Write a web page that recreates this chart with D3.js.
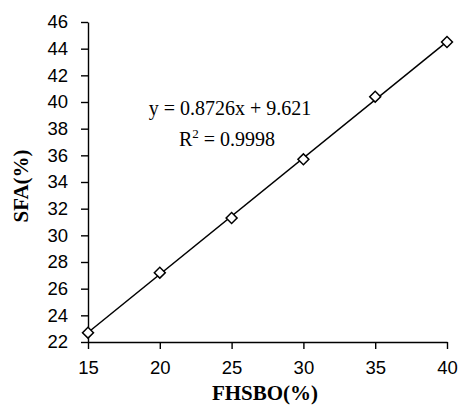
<!DOCTYPE html>
<html>
<head>
<meta charset="utf-8">
<script src="https://cdn.jsdelivr.net/npm/d3@7"></script>
<style>
body { margin: 0; background: #fff; }
</style>
</head>
<body>
<div id="chart"></div>
<script>
var w = 458;
var h = 405;
var margin = ({top: 22, right: 11, bottom: 63, left: 88});

var fhsbo = [15, 20, 25, 30, 35, 40];
var sfa = [22.7, 27.2, 31.3, 35.7, 40.4, 44.5];
var xTicks = [15, 20, 25, 30, 35, 40];
var yTicks = [22, 24, 26, 28, 30, 32, 34, 36, 38, 40, 42, 44, 46];
var slope = 0.8726;
var intercept = 9.621;
var eqLabel = "y = 0.8726x + 9.621";
var r2Value = "0.9998";

var xScale = d3.scaleLinear()
    .domain([15, 40])
    .range([margin.left, w - margin.right]);

var yScale = d3.scaleLinear()
    .domain([22, 46])
    .range([h - margin.bottom, margin.top]);

var svg = d3.select("#chart")
    .append("svg")
    .attr("width", w)
    .attr("height", h);

// axes
svg.append("g")
    .attr("transform", "translate(0," + (h - margin.bottom) + ")")
    .call(d3.axisBottom(xScale).tickValues(xTicks).tickSize(7).tickPadding(12).tickSizeOuter(0));

svg.append("g")
    .attr("transform", "translate(" + margin.left + ",0)")
    .call(d3.axisLeft(yScale).tickValues(yTicks).tickSize(7).tickPadding(13).tickSizeOuter(0));

svg.selectAll(".domain, .tick line")
    .attr("stroke", "#000")
    .attr("stroke-width", 1.4);

svg.selectAll(".tick text")
    .attr("font-family", "Liberation Sans, Arial, sans-serif")
    .attr("font-size", 18.5)
    .attr("fill", "#000");

// trend line
svg.append("line")
    .attr("x1", xScale(15))
    .attr("y1", yScale(slope * 15 + intercept))
    .attr("x2", xScale(40))
    .attr("y2", yScale(slope * 40 + intercept))
    .attr("stroke", "#000")
    .attr("stroke-width", 1.5);

// markers
var diamond = d3.symbol().type(d3.symbolSquare).size(60);
svg.selectAll(".pt")
    .data(fhsbo)
    .enter()
    .append("path")
    .attr("class", "pt")
    .attr("d", diamond)
    .attr("transform", function(d, i) {
        return "translate(" + xScale(d) + "," + yScale(sfa[i]) + ") rotate(45)";
    })
    .attr("fill", "#fff")
    .attr("stroke", "#000")
    .attr("stroke-width", 1.5);

// equation text
svg.append("text")
    .attr("x", 230)
    .attr("y", 115)
    .attr("text-anchor", "middle")
    .attr("font-family", "Liberation Serif, Times New Roman, serif")
    .attr("font-size", 20)
    .text(eqLabel);

var r2 = svg.append("text")
    .attr("x", 227)
    .attr("y", 146)
    .attr("text-anchor", "middle")
    .attr("font-family", "Liberation Serif, Times New Roman, serif")
    .attr("font-size", 20);
r2.append("tspan").text("R");
r2.append("tspan").attr("dy", -8).attr("font-size", 13).text("2");
r2.append("tspan").attr("dy", 8).text(" = " + r2Value);

// axis titles
svg.append("text")
    .attr("x", 265)
    .attr("y", 400)
    .attr("text-anchor", "middle")
    .attr("font-family", "Liberation Serif, Times New Roman, serif")
    .attr("font-weight", "bold")
    .attr("font-size", 21)
    .text("FHSBO(%)");

svg.append("text")
    .attr("transform", "translate(28,186) rotate(-90)")
    .attr("text-anchor", "middle")
    .attr("font-family", "Liberation Serif, Times New Roman, serif")
    .attr("font-weight", "bold")
    .attr("font-size", 21)
    .text("SFA(%)");
</script>
</body>
</html>
